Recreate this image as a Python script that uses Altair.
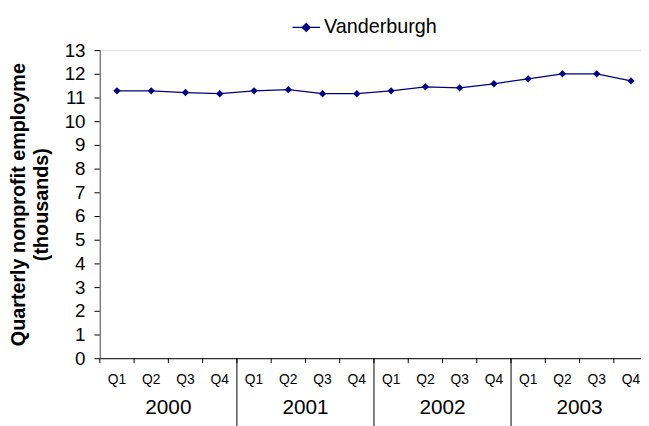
import altair as alt
import pandas as pd

years = ["2000", "2001", "2002", "2003"]
quarters = ["Q1", "Q2", "Q3", "Q4"]
values = [11.28, 11.28, 11.21, 11.16, 11.28, 11.33, 11.16, 11.16,
          11.28, 11.45, 11.41, 11.58, 11.79, 12.0, 12.0, 11.70]
series_name = "Vanderburgh"
y_title = ["Quarterly nonprofit employme", "(thousands)"]

keys = [f"{y}-{q}" for y in years for q in quarters]
df = pd.DataFrame({"key": keys, "value": values, "series": series_name})
year_df = pd.DataFrame({"year": years, "key": [f"{y}-Q2" for y in years]})
sep_df = pd.DataFrame({"key": [f"{y}-Q1" for y in years[1:]]})
tick_df = pd.DataFrame({"key": keys})

NAVY = "#000080"
FONT = "Liberation Sans"
W, H = 548, 312
BAND = 34.7

xscale = alt.Scale(domain=keys, range=[0, BAND * len(keys)], paddingInner=0, paddingOuter=0)

xenc_axis = alt.X(
    "key:N", sort=keys, scale=xscale,
    axis=alt.Axis(
        title=None, labelAngle=0, ticks=False, labelPadding=15,
        labelExpr="split(datum.label, '-')[1]",
        labelFontSize=14, labelColor="#000", labelFont=FONT,
        domainColor="#000", domainWidth=1, grid=False,
    ),
)

legend_symbol = "M-1,0L1,0M0,-0.28L0.28,0L0,0.28L-0.28,0Z"

line = alt.Chart(df).mark_line(
    strokeWidth=1.3,
    point=alt.OverlayMarkDef(shape="diamond", size=55, filled=True, color=NAVY),
).encode(
    x=xenc_axis,
    y=alt.Y(
        "value:Q",
        scale=alt.Scale(domain=[0, 13], nice=False, zero=True),
        axis=alt.Axis(
            title=y_title, values=list(range(0, 14)), grid=False,
            tickSize=6, tickColor="#000", labelPadding=9,
            labelFontSize=19, labelColor="#000", labelFont=FONT,
            domainColor="#808080", domainWidth=1.5,
            titleFont=FONT, titleFontSize=20, titleFontWeight="bold",
            titleColor="#000", titlePadding=13, titleLineHeight=23,
        ),
    ),
    color=alt.Color(
        "series:N",
        scale=alt.Scale(range=[NAVY]),
        legend=alt.Legend(
            title=None, orient="none", legendX=194, legendY=-38,
            symbolType=legend_symbol, symbolSize=784, symbolStrokeWidth=1.3,
            symbolFillColor=NAVY, symbolStrokeColor=NAVY,
            labelFont=FONT, labelFontSize=20, labelColor="#000", labelOffset=3,
            padding=0,
        ),
    ),
)

ticks = alt.Chart(tick_df).mark_rule(color="#000", strokeWidth=1).encode(
    x=alt.X("key:N", sort=keys, scale=xscale, bandPosition=0),
    y=alt.value(H), y2=alt.value(H + 5),
)

seps = alt.Chart(sep_df).mark_rule(color="#000", strokeWidth=1).encode(
    x=alt.X("key:N", sort=keys, scale=xscale, bandPosition=0),
    y=alt.value(H), y2=alt.value(H + 70),
)

year_text = alt.Chart(year_df).mark_text(
    font=FONT, fontSize=21, color="#000", baseline="middle", align="center"
).encode(
    x=alt.X("key:N", sort=keys, scale=xscale, bandPosition=1),
    y=alt.value(H + 50),
    text="year:N",
)

chart = alt.layer(line, ticks, seps, year_text).properties(
    width=W, height=H,
    autosize=alt.AutoSizeParams(type="none"),
    padding={"left": 93, "top": 40, "right": 0, "bottom": 66},
).configure_view(stroke=None).configure(background="white")

chart.save("out.html", embed_options={"renderer": "svg", "actions": False})
